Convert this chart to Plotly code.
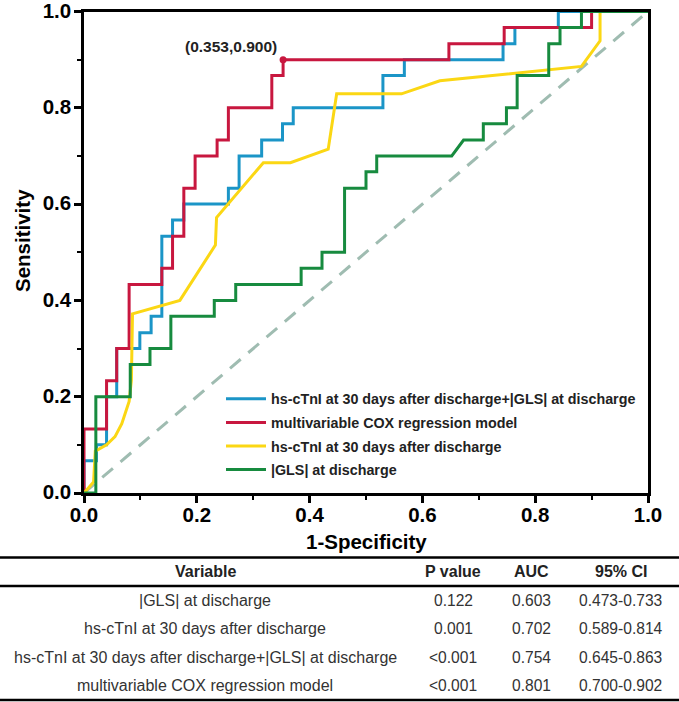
import plotly.graph_objects as go

# ---------------- data ----------------
# ROC points (1-specificity, sensitivity)
combo_fpr = [0, 0, 0.022, 0.040, 0.058, 0.099, 0.119, 0.138, 0.157, 0.177, 0.256, 0.275,
             0.315, 0.352, 0.371, 0.530, 0.568, 0.743, 0.764, 0.841, 1.0]
combo_tpr = [0, 0.067, 0.100, 0.200, 0.300, 0.333, 0.367, 0.533, 0.567, 0.600, 0.633, 0.700,
             0.733, 0.767, 0.800, 0.867, 0.900, 0.933, 0.967, 1.0, 1.0]

cox_fpr = [0, 0, 0.040, 0.058, 0.080, 0.138, 0.157, 0.177, 0.197, 0.236, 0.256, 0.333,
           0.353, 0.647, 0.745, 0.900, 1.0]
cox_tpr = [0, 0.133, 0.233, 0.300, 0.433, 0.467, 0.533, 0.633, 0.700, 0.733, 0.800, 0.867,
           0.900, 0.933, 0.967, 1.0, 1.0]

tni_fpr = [0, 0.017, 0.020, 0.040, 0.055, 0.067, 0.080, 0.084, 0.086, 0.170, 0.233, 0.235,
           0.318, 0.366, 0.433, 0.448, 0.563, 0.631, 0.882, 0.915, 0.915, 1.0]
tni_tpr = [0, 0.023, 0.087, 0.100, 0.117, 0.144, 0.190, 0.234, 0.372, 0.400, 0.515, 0.572,
           0.686, 0.686, 0.714, 0.829, 0.829, 0.856, 0.886, 0.939, 1.0, 1.0]

gls_fpr = [0, 0.021, 0.021, 0.082, 0.082, 0.117, 0.117, 0.154, 0.154, 0.231, 0.231, 0.269,
           0.269, 0.385, 0.385, 0.422, 0.422, 0.462, 0.462, 0.500, 0.500, 0.519, 0.519, 0.652,
           0.673, 0.708, 0.708, 0.749, 0.749, 0.768, 0.768, 0.824, 0.824, 0.844, 0.844, 0.882,
           0.882, 1.0]
gls_tpr = [0, 0, 0.200, 0.200, 0.267, 0.267, 0.300, 0.300, 0.367, 0.367, 0.400, 0.400,
           0.433, 0.433, 0.467, 0.467, 0.500, 0.500, 0.633, 0.633, 0.667, 0.667, 0.700, 0.700,
           0.733, 0.733, 0.767, 0.767, 0.800, 0.800, 0.867, 0.867, 0.933, 0.933, 0.967, 0.967,
           1.0, 1.0]

ref_line = [0, 1]
cutoff_point = (0.353, 0.900)

series_names = [
    "hs-cTnI at 30 days after discharge+|GLS| at discharge",
    "multivariable COX regression model",
    "hs-cTnI at 30 days after discharge",
    "|GLS| at discharge",
]
series_colors = ["#1b95c7", "#c8173f", "#fbd714", "#178b3f"]

x_ticks = [0.0, 0.2, 0.4, 0.6, 0.8, 1.0]
y_ticks = [0.0, 0.2, 0.4, 0.6, 0.8, 1.0]

table_header = ["Variable", "P value", "AUC", "95% CI"]
table_variable = ["|GLS| at discharge", "hs-cTnI at 30 days after discharge",
                  "hs-cTnI at 30 days after discharge+|GLS| at discharge",
                  "multivariable COX regression model"]
table_p = ["0.122", "0.001", "<0.001", "<0.001"]
table_auc = ["0.603", "0.702", "0.754", "0.801"]
table_ci = ["0.473-0.733", "0.589-0.814", "0.645-0.863", "0.700-0.902"]

# ---------------- figure ----------------
W, H = 679, 702
FONT = "Liberation Sans, Arial, sans-serif"


def py(px):
    return (H - px) / H


def px_x(px):
    return px / W


fig = go.Figure()

fig.add_trace(go.Scatter(x=ref_line, y=ref_line, mode="lines", showlegend=False,
                         line=dict(color="#9fbcb1", width=3, dash="14px,10px"),
                         hoverinfo="skip"))

curves = [
    (combo_fpr, combo_tpr, "hv"),
    (cox_fpr, cox_tpr, "hv"),
    (tni_fpr, tni_tpr, "linear"),
    (gls_fpr, gls_tpr, "linear"),
]
for i, (xs, ys, shape) in enumerate(curves):
    fig.add_trace(go.Scatter(x=xs, y=ys, mode="lines", name=series_names[i],
                             legendgroup="g%d" % i,
                             line=dict(color=series_colors[i], width=3, shape=shape)))

fig.add_trace(go.Scatter(x=[cutoff_point[0]], y=[cutoff_point[1]], mode="markers",
                         showlegend=False, marker=dict(color=series_colors[1], size=7),
                         cliponaxis=False))

fig.add_annotation(x=cutoff_point[0], y=cutoff_point[1], xref="x", yref="y",
                   text="<b>(%.3f,%.3f)</b>" % cutoff_point, showarrow=False,
                   xanchor="right", yanchor="bottom", xshift=-4, yshift=3,
                   font=dict(family=FONT, size=15.5, color="#222222"))

axis_common = dict(
    range=[0, 1], showgrid=False, zeroline=False, showline=True, linecolor="black",
    linewidth=2.5, mirror=True, ticks="outside", ticklen=7, tickwidth=2.5,
    tickcolor="black", tickformat=".1f", ticklabeloverflow="allow",
    tickfont=dict(family=FONT, size=20.5, color="black", weight="bold"),
    minor=dict(dtick=0.1, ticks="outside", ticklen=4, tickwidth=2, tickcolor="black"),
    automargin=False, fixedrange=True,
)

fig.update_layout(
    width=W, height=H,
    margin=dict(l=0, r=0, t=0, b=0),
    paper_bgcolor="white", plot_bgcolor="white",
    xaxis=dict(domain=[84 / W, 648 / W], tickvals=x_ticks, ticklabelstandoff=-5,
               **axis_common),
    yaxis=dict(domain=[py(493), py(11.5)], tickvals=y_ticks, ticklabelstandoff=-1,
               ticklabelshift=-1, **axis_common),
    legend=dict(x=px_x(221), y=py(383), xanchor="left", yanchor="top",
                bgcolor="rgba(0,0,0,0)", borderwidth=0, tracegroupgap=2,
                itemwidth=40,
                font=dict(family=FONT, size=14.3, color="#222222", weight="bold")),
    showlegend=True,
)

# axis titles
fig.add_annotation(x=(84 + 648) / 2 / W, y=py(541.5), xref="paper", yref="paper",
                   text="<b>1-Specificity</b>", showarrow=False,
                   xanchor="center", yanchor="middle",
                   font=dict(family=FONT, size=20.5, color="black"))
fig.add_annotation(x=px_x(22), y=py(241), xref="paper", yref="paper",
                   text="<b>Sensitivity</b>", showarrow=False, textangle=-90,
                   xanchor="center", yanchor="middle",
                   font=dict(family=FONT, size=20.5, color="black"))

# table rules
for ypx, w in [(557.5, 2.7), (586, 2.3), (700, 2.7)]:
    fig.add_shape(type="line", xref="paper", yref="paper", x0=0, x1=1,
                  y0=py(ypx), y1=py(ypx), line=dict(color="black", width=w))

col_x = [205, 453, 531, 620.5]
header_y = 571.7
row_y = [600, 628.5, 657, 685.3]

for cx, txt in zip(col_x, table_header):
    fig.add_annotation(x=px_x(cx), y=py(header_y), xref="paper", yref="paper",
                       text="<b>%s</b>" % txt, showarrow=False,
                       xanchor="center", yanchor="middle",
                       font=dict(family=FONT, size=16, color="#222222"))

columns = [table_variable, table_p, table_auc, table_ci]
col_sizes = [16, 15.6, 15.6, 15.6]
for cx, col, fs in zip(col_x, columns, col_sizes):
    for ry, txt in zip(row_y, col):
        fig.add_annotation(x=px_x(cx), y=py(ry), xref="paper", yref="paper",
                           text=txt.replace("<", "&lt;"), showarrow=False,
                           xanchor="center", yanchor="middle",
                           font=dict(family=FONT, size=fs, color="#333333"))

fig.write_html("out.html")
